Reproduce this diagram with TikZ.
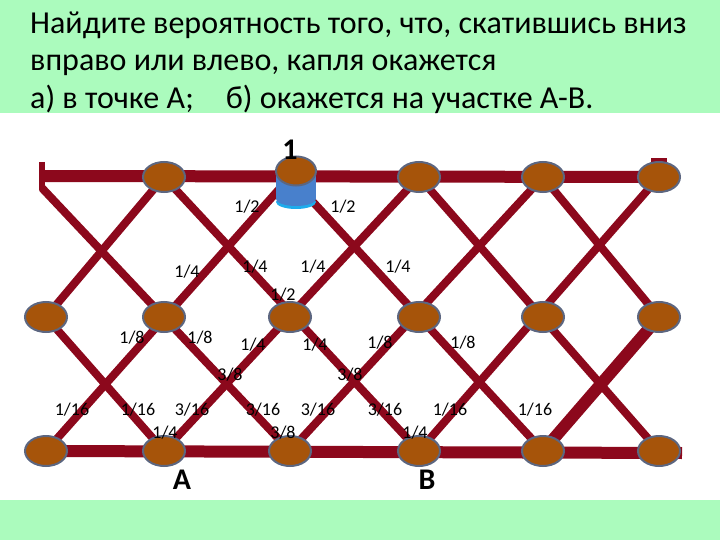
\documentclass[tikz,border=0pt]{standalone}
\usepackage{fontspec}
\setmainfont{Carlito}
\usetikzlibrary{shapes.geometric,calc}
\definecolor{bggreen}{RGB}{171,251,189}
\definecolor{linered}{RGB}{140,8,28}
\definecolor{nodebrown}{RGB}{166,84,10}
\definecolor{nodeedge}{RGB}{92,102,128}
\definecolor{dropblue}{RGB}{72,128,204}
\definecolor{dropcyan}{RGB}{30,172,236}
\begin{document}
\begin{tikzpicture}[x=1pt,y=-1pt,
  lat/.style={draw=linered, line width=8pt},
  thicklat/.style={draw=linered, line width=12pt},
  rail/.style={draw=linered, line width=12pt},
  ball/.style={ellipse, fill=nodebrown, draw=nodeedge, line width=2pt, minimum width=42pt, minimum height=30pt, inner sep=0pt},
  frac/.style={font=\fontsize{18}{18}\selectfont, inner sep=0pt},
  big/.style={font=\fontsize{30}{30}\selectfont\bfseries, inner sep=0pt},
  title/.style={anchor=base west, font=\fontsize{32}{32}\selectfont, inner sep=0pt}
  ]
\useasboundingbox (0,0) rectangle (720,540);
\fill[bggreen] (0,0) rectangle (720,540);
\fill[white] (0,113) rectangle (720,500);

% title
\node[title] (t1) at (30,34) {Найдите вероятность того, что, скатившись вниз};
\node[title] (t2) at (30,71) {вправо или влево, капля окажется};
\node[title] (t3) at (30,109) {а) в точке А;\quad б) окажется на участке А-В.};

% lattice coordinates
\foreach \h/\x in {0/46,1/105,2/164,3/227,4/290,5/354,6/419,7/481,8/543,9/601,10/659}{
  \foreach \r/\y in {0/177,1/247,2/317,3/384,4/451}{
    \coordinate (p\h-\r) at (\x,\y);
  }
}
\coordinate (tl) at (40,176);
\coordinate (tls) at (42,188);
\coordinate (br) at (682,453);

% rails
\draw[rail] (tl) -- (p10-0);
\draw[rail] (p0-4) -- (br);
\draw[linered, line width=6pt] (42,162) -- (42,190);

% diagonals down-right
\draw[lat] (p0-2) -- (p2-4);
\draw[lat] (tls) -- (p4-4);
\draw[lat] (p2-0) -- (p6-4);
\draw[lat] (p4-0) -- (p8-4);
\draw[lat] (p6-0) -- (p10-4);
\draw[lat] (p8-0) -- (p10-2);
% diagonals down-left
\draw[lat] (p2-0) -- (p0-2);
\draw[lat] (p4-0) -- (p0-4);
\draw[lat] (p6-0) -- (p2-4);
\draw[lat] (p8-0) -- (p4-4);
\draw[lat] (p10-0) -- (p6-4);
\draw[thicklat] (p10-2) -- (p8-4);

% small red bits
\fill[linered] (p8-0) ++(-3,-16) rectangle ++(6,6);
\fill[linered] (p10-0) ++(-8,-19) rectangle ++(16,8);

% balls
\foreach \n in {2-0,6-0,8-0,10-0,0-2,2-2,4-2,6-2,8-2,10-2,0-4,2-4,4-4,6-4,8-4,10-4}{
  \node[ball] (n\n) at (p\n) {};
}
% the drop at the top
\fill[dropcyan] ($(p4-0)+(6,25)$) ellipse [x radius=20, y radius=7];
\fill[dropblue] ($(p4-0)+(-14,-4)$) rectangle ($(p4-0)+(26,22)$);
\fill[dropblue] ($(p4-0)+(6,22)$) ellipse [x radius=20, y radius=7];
\node[ball, minimum width=40pt, minimum height=29pt] (n4-0) at ($(p4-0)+(6,-6)$) {};

% labels
\node[big] (one) at (290,150) {1};
\node[frac] (a1) at (247,207) {1/2};
\node[frac] (a2) at (343,207) {1/2};
\node[frac] (b1) at (187,272) {1/4};
\node[frac] (b2) at (255,267) {1/4};
\node[frac] (b3) at (313,267) {1/4};
\node[frac] (b4) at (398,267) {1/4};
\node[frac] (b5) at (283,295) {1/2};
\node[frac] (c1) at (132,338) {1/8};
\node[frac] (c2) at (200,338) {1/8};
\node[frac] (c3) at (253,345) {1/4};
\node[frac] (c4) at (315,345) {1/4};
\node[frac] (c5) at (380,343) {1/8};
\node[frac] (c6) at (463,343) {1/8};
\node[frac] (c7) at (230,375) {3/8};
\node[frac] (c8) at (350,375) {3/8};
\node[frac] (d1) at (72,410) {1/16};
\node[frac] (d2) at (138,410) {1/16};
\node[frac] (d3) at (192,410) {3/16};
\node[frac] (d4) at (263,410) {3/16};
\node[frac] (d5) at (318,410) {3/16};
\node[frac] (d6) at (385,410) {3/16};
\node[frac] (d7) at (450,410) {1/16};
\node[frac] (d8) at (535,410) {1/16};
\node[frac] (e1) at (165,433) {1/4};
\node[frac] (e2) at (283,433) {3/8};
\node[frac] (e3) at (415,433) {1/4};
\node[big] (A) at (182,480) {A};
\node[big] (B) at (427,480) {B};
\end{tikzpicture}
\end{document}
